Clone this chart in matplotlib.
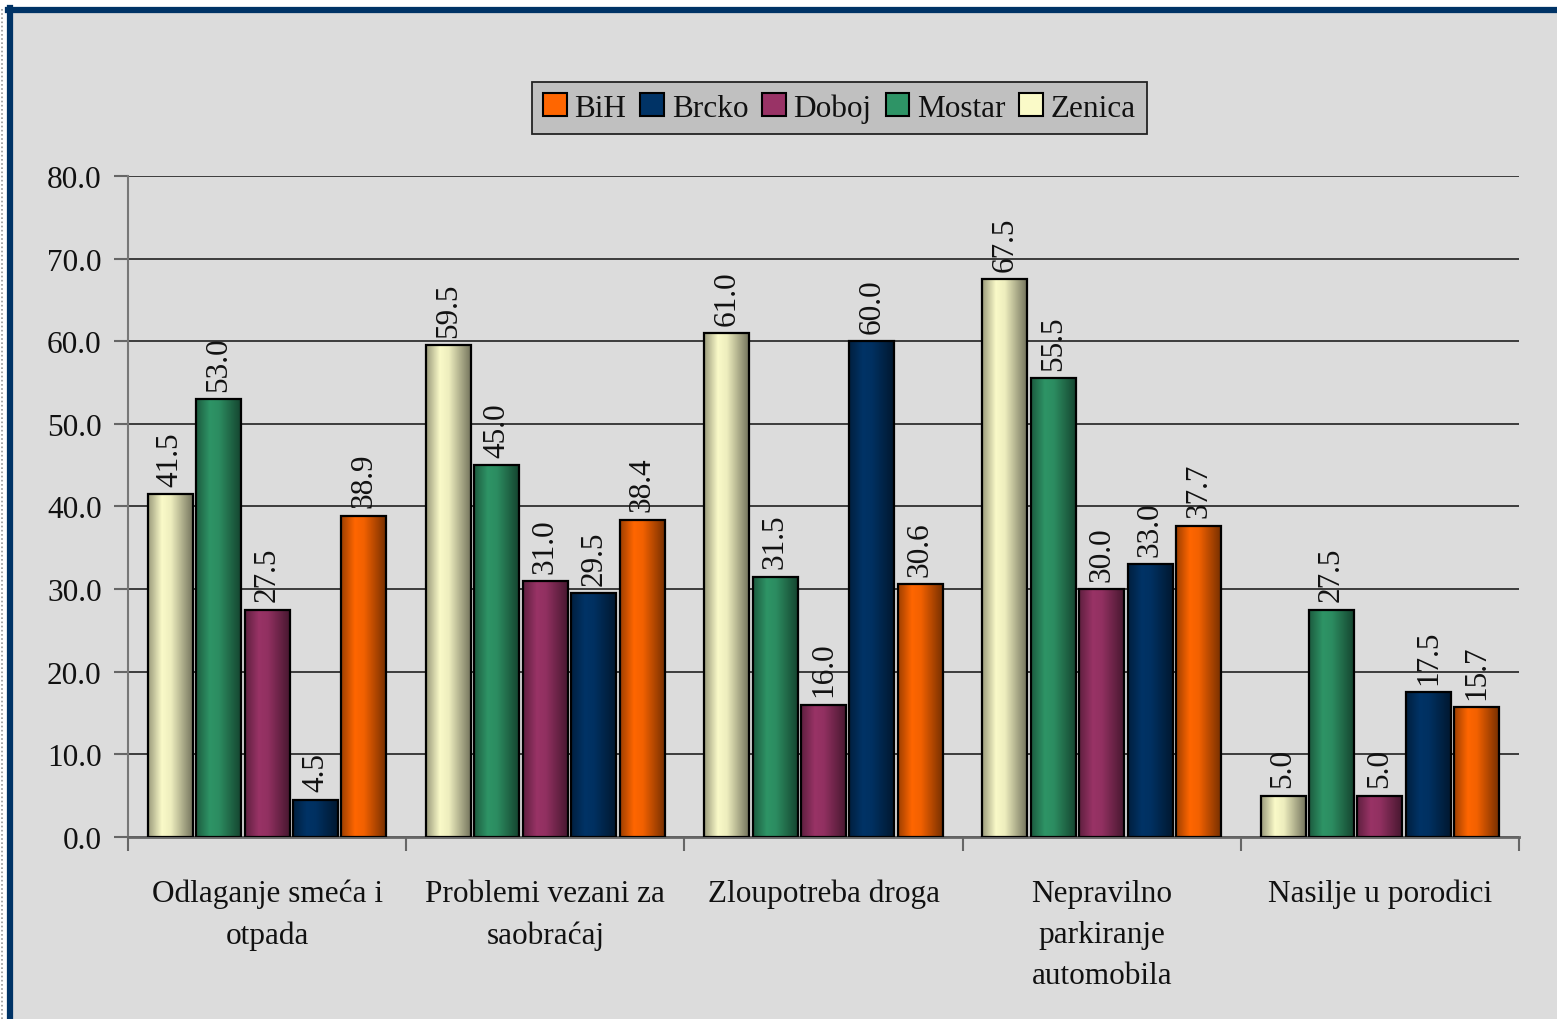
import numpy as np
import matplotlib.pyplot as plt
from matplotlib.patches import Rectangle, Patch
from matplotlib.lines import Line2D
from matplotlib.colors import to_rgb

# dados
categorias = ['Odlaganje smeća i\notpada', 'Problemi vezani za\nsaobraćaj',
              'Zloupotreba droga', 'Nepravilno\nparkiranje\nautomobila',
              'Nasilje u porodici']
serie_nomes = ['Zenica', 'Mostar', 'Doboj', 'Brcko', 'BiH']
zenica = [41.5, 59.5, 61.0, 67.5, 5.0]
mostar = [53.0, 45.0, 31.5, 55.5, 27.5]
doboj = [27.5, 31.0, 16.0, 30.0, 5.0]
brcko = [4.5, 29.5, 60.0, 33.0, 17.5]
bih = [38.9, 38.4, 30.6, 37.7, 15.7]
valores = [zenica, mostar, doboj, brcko, bih]
cores = ['#FAFAC8', '#2E9466', '#993366', '#003366', '#FF6600']

plt.rcParams['font.family'] = ['Liberation Serif', 'DejaVu Serif']
plt.rcParams['text.color'] = '#111111'
plt.rcParams['xtick.color'] = '#111111'
plt.rcParams['ytick.color'] = '#111111'

fig = plt.figure(figsize=(15.57, 10.2), dpi=100)
fig.patch.set_facecolor('white')
W, H = 1557, 1020
fs = 22.5

# fundo cinza + moldura azul
fig.patches.append(Rectangle((8 / W, -0.1), 1.2, (H - 9) / H + 0.1, transform=fig.transFigure,
                             facecolor='#DCDCDC', edgecolor='none', zorder=-10))
fig.add_artist(Line2D([8 / W, 1.0], [(H - 11) / H] * 2, transform=fig.transFigure,
                      color='#003366', lw=4.5, zorder=-5))
fig.add_artist(Line2D([10 / W] * 2, [0, (H - 9) / H], transform=fig.transFigure,
                      color='#003366', lw=4.5, zorder=-5))
fig.add_artist(Line2D([2 / W] * 2, [0, (H - 8) / H], transform=fig.transFigure,
                      color='#999999', lw=1.2, ls=(0, (1, 1.5)), zorder=-5))

ax = fig.add_axes([128 / W, (H - 838) / H, (1519 - 128) / W, (838 - 177) / H])
ax.set_facecolor('none')

x = np.arange(len(categorias))
passo = 0.174
largura = 0.162

def gradiente(cor):
    t = np.linspace(0, 1, 64)
    f = np.interp(t, [0, 0.3, 0.5, 1.0], [0.62, 1.0, 0.95, 0.45])
    c = np.array(to_rgb(cor))
    img = np.clip(c[None, :] * f[:, None], 0, 1)
    return img[None, :, :]

for i, (nome, vals, cor) in enumerate(zip(serie_nomes, valores, cores)):
    barras = ax.bar(x + (i - 2) * passo, vals, largura, facecolor='none',
                    edgecolor='black', linewidth=1.6, zorder=4, label=nome)
    img = gradiente(cor)
    for b, v in zip(barras, vals):
        ax.imshow(img, extent=[b.get_x(), b.get_x() + b.get_width(), 0, b.get_height()],
                  aspect='auto', zorder=3, interpolation='bilinear')
        ax.annotate(f'{v:.1f}', (b.get_x() + b.get_width() / 2, b.get_height()),
                    xytext=(0, 6), textcoords='offset points', rotation=90,
                    ha='center', va='bottom', fontsize=fs)

ax.set_xlim(-0.5, len(categorias) - 0.5)
ax.set_ylim(0, 80)
ax.set_yticks(np.arange(0, 81, 10))
ax.set_yticklabels([f'{v:.1f}' for v in np.arange(0, 81, 10)], fontsize=fs)
ax.yaxis.grid(True, color='#111111', lw=1.1, zorder=1)
ax.set_axisbelow(True)

ax.set_xticks(x)
ax.set_xticklabels(categorias, fontsize=fs, linespacing=1.55)
ax.set_xticks(np.arange(-0.5, len(categorias), 1), minor=True)
ax.tick_params(axis='x', which='major', length=0, pad=30)
ax.tick_params(axis='x', which='minor', length=10, width=1.5, color='#666666')
ax.tick_params(axis='y', length=10, width=1.5, color='#666666', pad=9)

for s in ['top', 'right']:
    ax.spines[s].set_visible(False)
ax.spines['left'].set_color('#777777')
ax.spines['bottom'].set_color('#666666')
ax.spines['left'].set_linewidth(1.5)
ax.spines['bottom'].set_linewidth(2)

# legenda na ordem inversa
handles = [Patch(facecolor=c, edgecolor='black', linewidth=1.5, label=n)
           for n, c in zip(serie_nomes[::-1], cores[::-1])]
leg = fig.legend(handles=handles, loc='center', bbox_to_anchor=(839.5 / W, 1 - 109 / H),
                 ncol=5, fontsize=fs, frameon=True, fancybox=False,
                 handlelength=0.75, handleheight=0.75, handletextpad=0.25,
                 columnspacing=0.45, borderpad=0.35)
leg.get_frame().set_facecolor('#C0C0C0')
leg.get_frame().set_edgecolor('#222222')
leg.get_frame().set_linewidth(1.3)
leg.get_frame().set_alpha(1)

fig.savefig('out.png', dpi=100)
